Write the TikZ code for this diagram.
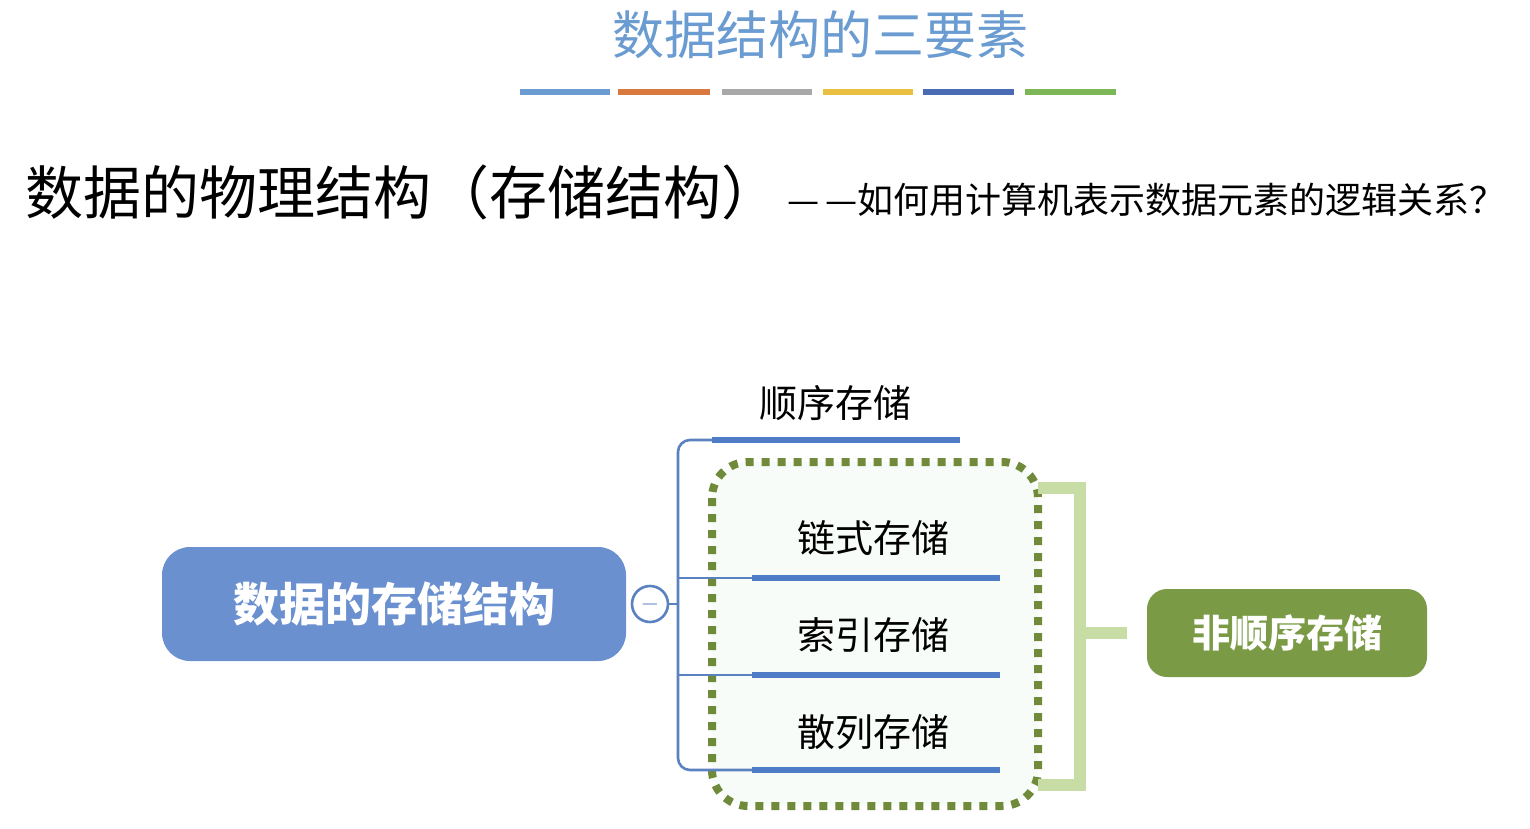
\documentclass[tikz,border=0pt]{standalone}
\usepackage{fontspec}
\setmainfont{Noto Sans CJK SC}
\begin{document}
\begin{tikzpicture}[x=0.5pt,y=-0.5pt,
  bar/.style={line width=3pt},
  branch/.style={draw=bline, line width=1.3pt, rounded corners=6pt},
  leaf/.style={font=\fontsize{19}{22}\selectfont, anchor=center}]
\definecolor{tblue}{HTML}{6A9BD1}
\definecolor{bbox}{HTML}{6A90D0}
\definecolor{lbar}{HTML}{4E7CC6}
\definecolor{gbox}{HTML}{7A9A45}
\definecolor{gdot}{HTML}{6E8A3A}
\definecolor{lgreen}{HTML}{C8DDA6}
\definecolor{bline}{HTML}{5B82C0}
\useasboundingbox (0,0) rectangle (1530,829);
\fill[white] (0,0) rectangle (1530,829);
\node[tblue, font=\fontsize{26}{30}\selectfont] (title) at (820,35) {数据结构的三要素};
\foreach \a/\b/\c in {520/610/6A9BD1,618/710/D9793F,722/812/A8A8A8,823/913/EBC040,923/1014/4A6CB5,1025/1116/7DB657}{
  \definecolor{tmp}{HTML}{\c}\draw[bar,tmp] (\a,92) -- (\b,92);}
\node[anchor=west, font=\fontsize{29}{34}\selectfont] (h1) at (18,192) {数据的物理结构（存储结构）};
\node[anchor=west, font=\fontsize{18}{20}\selectfont] (h2) at (780,200) {—\,—如何用计算机表示数据元素的逻辑关系？};
% dotted box
\draw[gdot, fill=green!10!white!90!gray!20, line width=4pt, dash pattern=on 4pt off 4pt, rounded corners=18pt] (712,462) rectangle (1038,806);
% bracket
\draw[lgreen, line width=6pt] (1038,488) -- (1080,488) -- (1080,785) -- (1038,785);
\draw[lgreen, line width=6pt] (1080,633) -- (1127,633);
% main box
\node[fill=bbox, rounded corners=14pt, minimum width=232pt, minimum height=57pt, text=white, font=\fontsize{23}{26}\selectfont\bfseries] (root) at (394,604) {数据的存储结构};
\node[circle, draw=bline, line width=1.3pt, fill=white, minimum size=18pt, inner sep=0pt, text=bline, font=\large] (minus) at (650,604) {$-$};
\coordinate (j) at (678,604);
\draw[branch] (minus) -- (j);
\draw[branch] (712,440) -- (678,440) -- (678,770) -- (752,770);
\draw[branch] (678,578) -- (752,578);
\draw[branch] (678,675) -- (752,675);
\draw[lbar, line width=3pt] (712,440) -- (960,440);
\draw[lbar, line width=3pt] (752,578) -- (1000,578);
\draw[lbar, line width=3pt] (752,675) -- (1000,675);
\draw[lbar, line width=3pt] (752,770) -- (1000,770);
\node[leaf] (s1) at (835,403) {顺序存储};
\node[leaf] (s2) at (873,538) {链式存储};
\node[leaf] (s3) at (873,635) {索引存储};
\node[leaf] (s4) at (873,732) {散列存储};
\node[fill=gbox, rounded corners=10pt, minimum width=140pt, minimum height=44pt, text=white, font=\fontsize{19}{22}\selectfont\bfseries] (ns) at (1287,633) {非顺序存储};
\end{tikzpicture}
\end{document}
